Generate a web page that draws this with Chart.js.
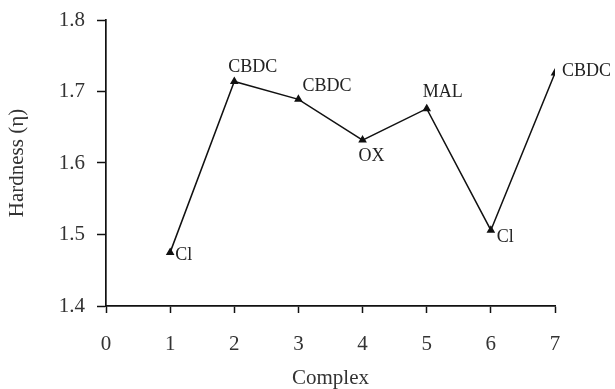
<!DOCTYPE html>
<html>
<head>
<meta charset="utf-8">
<script src="https://cdn.jsdelivr.net/npm/chart.js@4/dist/chart.umd.min.js"></script>
<style>
  html, body { margin: 0; padding: 0; background: #fff; }
  #wrap { width: 615px; height: 389px; }
</style>
</head>
<body>
<div id="wrap"><canvas id="durete"></canvas></div>
<script>
// Valeurs
const complexes = [1, 2, 3, 4, 5, 6, 7];
const durete = [1.475, 1.714, 1.689, 1.632, 1.676, 1.506, 1.726];
const ligands = ['Cl', 'CBDC', 'CBDC', 'OX', 'MAL', 'Cl', 'CBDC'];
const yTicks = [1.4, 1.5, 1.6, 1.7, 1.8];
const xTicks = [0, 1, 2, 3, 4, 5, 6, 7];

// Placement des étiquettes autour de chaque point (dx, dy, alignement)
const placement = [
  [5, 3, 'left'], [-6, -14, 'left'], [4, -13, 'left'], [9, 16, 'center'],
  [16, -16, 'center'], [6, 7, 'left'], [7, -2, 'left']
];

const serif = '"Liberation Serif", "Times New Roman", serif';

const etiquettes = {
  id: 'etiquettes',
  afterDatasetsDraw(chart) {
    const ctx = chart.ctx;
    const meta = chart.getDatasetMeta(0);
    ctx.save();
    ctx.fillStyle = '#222';
    ctx.font = '18px ' + serif;
    ctx.textBaseline = 'middle';
    meta.data.forEach((pt, i) => {
      const p = placement[i];
      ctx.textAlign = p[2];
      ctx.fillText(ligands[i], pt.x + p[0], pt.y + p[1]);
    });
    ctx.restore();
  }
};

new Chart(document.getElementById('durete'), {
  type: 'line',
  data: {
    datasets: [{
      data: complexes.map((c, i) => ({ x: c, y: durete[i] })),
      borderColor: '#111',
      borderWidth: 1.5,
      pointStyle: 'triangle',
      pointRadius: 3.5,
      pointBackgroundColor: '#111',
      pointBorderColor: '#111',
      tension: 0,
      fill: false
    }]
  },
  options: {
    responsive: true,
    maintainAspectRatio: false,
    animation: false,
    layout: { padding: { top: 20, right: 60, left: 0, bottom: 0 } },
    plugins: {
      legend: { display: false },
      tooltip: { enabled: false }
    },
    scales: {
      x: {
        type: 'linear',
        min: 0,
        max: 7,
        afterBuildTicks: s => { s.ticks = xTicks.map(v => ({ value: v })); },
        afterFit: s => { s.height = 83; s.paddingLeft = 0; s.paddingRight = 0; },
        grid: { drawOnChartArea: false, tickLength: 7, color: '#111', tickWidth: 1.5 },
        border: { color: '#111', width: 1.7 },
        ticks: { color: '#333', font: { family: serif, size: 21 }, padding: 19, maxRotation: 0 },
        title: { display: true, text: 'Complex', color: '#333', font: { family: serif, size: 21, lineHeight: 1 }, padding: { top: 0, bottom: 0 } }
      },
      y: {
        min: 1.4,
        max: 1.8,
        afterBuildTicks: s => { s.ticks = yTicks.map(v => ({ value: v })); },
        afterFit: s => { s.width = 106; s.paddingTop = 0; s.paddingBottom = 0; },
        grid: { drawOnChartArea: false, tickLength: 9, color: '#111', tickWidth: 1.5 },
        border: { color: '#111', width: 1.7 },
        ticks: { color: '#333', font: { family: serif, size: 21, lineHeight: 1 }, padding: 12, callback: v => v.toFixed(1) },
        title: { display: true, text: 'Hardness (η)', color: '#333', font: { family: serif, size: 21, lineHeight: 1 }, padding: { top: 7, bottom: 7 } }
      }
    }
  },
  plugins: [etiquettes]
});
</script>
</body>
</html>
